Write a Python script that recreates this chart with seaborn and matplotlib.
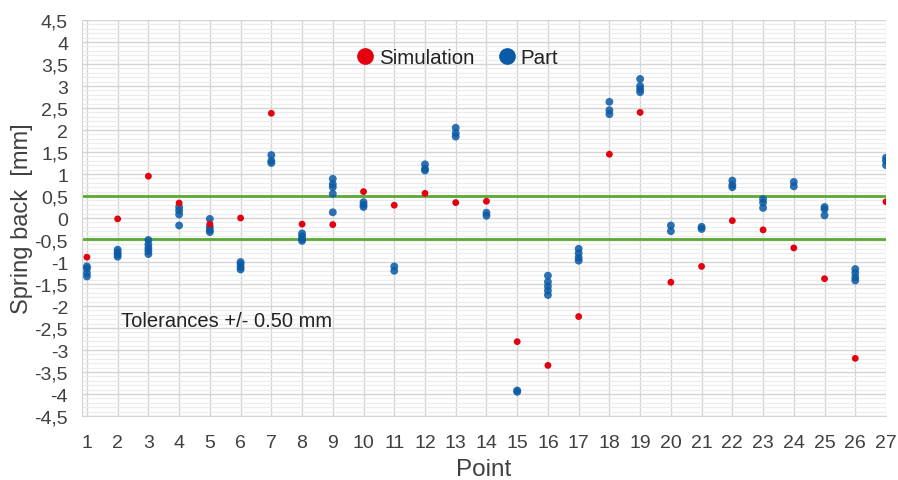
import numpy as np
import pandas as pd
import matplotlib
matplotlib.use("Agg")
import matplotlib.pyplot as plt
import seaborn as sns
from matplotlib.lines import Line2D
from matplotlib.ticker import MultipleLocator, FixedLocator

points = list(range(1, 28))
simulation = [-0.89, -0.02, 0.95, 0.34, -0.14, 0.0, 2.38, -0.14, -0.15, 0.60,
              0.29, 0.56, 0.35, 0.38, -2.81, -3.35, -2.24, 1.45, 2.40, -1.46,
              -1.10, -0.06, -0.27, -0.68, -1.38, -3.19, 0.37]
part = [
    [-1.10, -1.15, -1.25, -1.33],
    [-0.72, -0.78, -0.83, -0.88],
    [-0.50, -0.60, -0.68, -0.75, -0.82],
    [0.25, 0.17, 0.08, -0.17],
    [-0.02, -0.20, -0.27, -0.32],
    [-1.00, -1.05, -1.12, -1.17],
    [1.43, 1.30, 1.25],
    [-0.35, -0.42, -0.48, -0.52],
    [0.89, 0.77, 0.70, 0.55, 0.13],
    [0.36, 0.30, 0.25],
    [-1.10, -1.20],
    [1.22, 1.12, 1.08],
    [2.05, 1.93, 1.85],
    [0.12, 0.05],
    [-3.92, -3.95],
    [-1.31, -1.45, -1.55, -1.65, -1.75],
    [-0.70, -0.80, -0.90, -0.97],
    [2.64, 2.45, 2.36],
    [3.16, 3.00, 2.93, 2.86],
    [-0.17, -0.30],
    [-0.20, -0.25],
    [0.85, 0.75, 0.70],
    [0.43, 0.35, 0.23],
    [0.82, 0.72],
    [0.25, 0.20, 0.06],
    [-1.16, -1.25, -1.35, -1.42],
    [1.37, 1.30, 1.20],
]
tolerance_upper = 0.5
tolerance_lower = -0.48
ytick_vals = [x / 2 for x in range(-9, 10)]
ytick_labels = [("%g" % v).replace(".", ",") for v in ytick_vals]

sim_df = pd.DataFrame({"Point": points, "Spring back": simulation})
part_df = pd.DataFrame({
    "Point": [p for p, vals in zip(points, part) for _ in vals],
    "Spring back": [v for vals in part for v in vals],
})

sns.set_style("white")
plt.rcParams['font.family'] = ['Liberation Sans', 'DejaVu Sans']

fig = plt.figure(figsize=(8.98, 4.81), dpi=100)
ax = fig.add_axes([82 / 898, 1 - 417 / 481, (886 - 82) / 898, (417 - 21) / 481])

red = "#e3000f"
blue = "#0a5aa6"
txt = "#404040"

sns.scatterplot(data=part_df, x="Point", y="Spring back", ax=ax, color=blue,
                s=32, edgecolor="none", alpha=0.85, zorder=3, legend=False)
sns.scatterplot(data=sim_df, x="Point", y="Spring back", ax=ax, color=red,
                s=24, edgecolor="none", zorder=4, legend=False)

ax.axhline(tolerance_upper, color="#5aaa32", lw=2, zorder=2)
ax.axhline(tolerance_lower, color="#5aaa32", lw=2, zorder=2)

ax.set_xlim(0.84, 27)
ax.set_ylim(-4.5, 4.5)
ax.set_xticks(points)
ax.set_xticklabels([str(p) for p in points])
ax.yaxis.set_major_locator(FixedLocator(ytick_vals))
ax.set_yticklabels(ytick_labels)
ax.yaxis.set_minor_locator(MultipleLocator(0.1))

ax.grid(True, which="major", axis="both", color="#d4d4d4", lw=1, zorder=0)
ax.grid(True, which="minor", axis="y", color="#ececec", lw=0.8, zorder=0)
ax.set_axisbelow(True)
for s in ["top", "right"]:
    ax.spines[s].set_visible(False)
ax.spines["left"].set_color("#d4d4d4")
ax.spines["bottom"].set_color("#d4d4d4")

ax.tick_params(axis="both", which="major", labelsize=14, colors=txt,
               length=4, color="#c8c8c8")
ax.tick_params(axis="x", which="major", pad=9)
ax.tick_params(axis="y", which="major", pad=6)
ax.tick_params(axis="y", which="minor", length=0)

ax.set_xlabel("Point", fontsize=17.5, color=txt, labelpad=5)
ax.set_ylabel("Spring back  [mm]", fontsize=17, color=txt, labelpad=1)

ax.text(2.1, -2.33, "Tolerances +/- 0.50 mm", fontsize=14.5, color="#222222",
        va="center", ha="left")

handles = [
    Line2D([], [], marker="o", ls="none", color=red, markersize=11, label="Simulation"),
    Line2D([], [], marker="o", ls="none", color=blue, markersize=11, label="Part"),
]
ax.legend(handles=handles, loc="upper center", bbox_to_anchor=(0.466, 0.975),
          ncol=2, frameon=False, fontsize=14.8, handletextpad=0.15,
          columnspacing=1.1, handlelength=1.0, labelcolor="#222222")

fig.savefig("out.png", dpi=100)
